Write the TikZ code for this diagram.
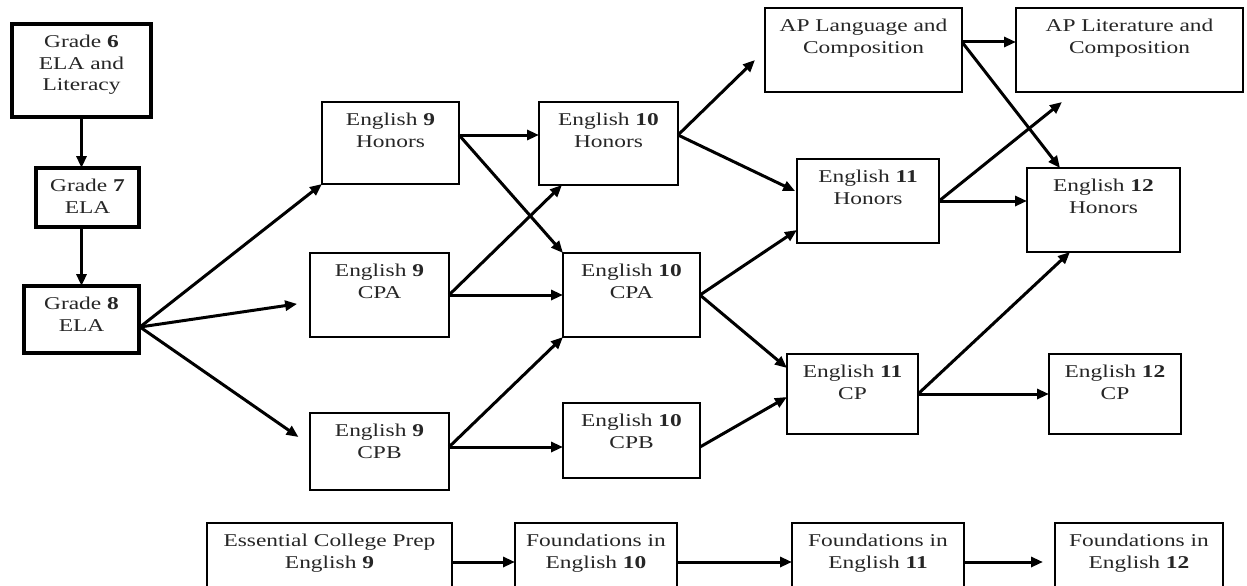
\documentclass[tikz,border=0pt]{standalone}
\usepackage{fontspec}
\setmainfont{Liberation Serif}[FakeStretch=1.3]
\usetikzlibrary{arrows.meta,calc}
\begin{document}
\begin{tikzpicture}[x=1pt,y=-1pt,
  box/.style={draw=black, line width=2.8pt, rectangle, inner sep=0pt, outer sep=0pt, anchor=north west, fill=white},
  gbox/.style={box, line width=3.4pt},
  txt/.style={align=center, inner sep=0pt, anchor=north, font=\fontsize{18}{21.5}\selectfont, text=black!85},
  arr/.style={line width=3pt, -{Triangle[length=12pt,width=10pt]}}]
\clip (0,0) rectangle (1247,586);
\fill[white] (0,0) rectangle (1247,586);
% boxes
\newcommand{\mybox}[7]{%
  \node[#1, minimum width=#5pt-#3pt, minimum height=#6pt-#4pt] (#2) at (#3,#4) {};
  \node[txt] (#2-t) at ($(#2.north)+(0,11)$) {#7};}
\mybox{gbox}{g6}{12}{24}{151}{117}{Grade \textbf{6}\\ELA and\\Literacy}
\mybox{gbox}{g7}{36}{168}{139}{227}{Grade \textbf{7}\\ELA}
\mybox{gbox}{g8}{24}{286}{139}{353}{Grade \textbf{8}\\ELA}
\mybox{box}{e9h}{322}{102}{459}{184}{English \textbf{9}\\Honors}
\mybox{box}{e9a}{310}{253}{449}{337}{English \textbf{9}\\CPA}
\mybox{box}{e9b}{310}{413}{449}{490}{English \textbf{9}\\CPB}
\mybox{box}{e10h}{539}{102}{678}{185}{English \textbf{10}\\Honors}
\mybox{box}{e10a}{563}{253}{700}{337}{English \textbf{10}\\CPA}
\mybox{box}{e10b}{563}{403}{700}{478}{English \textbf{10}\\CPB}
\mybox{box}{apl}{765}{8}{962}{92}{AP Language and\\Composition}
\mybox{box}{apt}{1016}{8}{1243}{92}{AP Literature and\\Composition}
\mybox{box}{e11h}{797}{159}{939}{243}{English \textbf{11}\\Honors}
\mybox{box}{e11c}{787}{354}{918}{434}{English \textbf{11}\\CP}
\mybox{box}{e12h}{1027}{168}{1180}{252}{English \textbf{12}\\Honors}
\mybox{box}{e12c}{1049}{354}{1181}{434}{English \textbf{12}\\CP}
\mybox{box}{ecp}{207}{523}{452}{625}{Essential College Prep\\English \textbf{9}}
\mybox{box}{f10}{515}{523}{677}{625}{Foundations in\\English \textbf{10}}
\mybox{box}{f11}{792}{523}{964}{625}{Foundations in\\English \textbf{11}}
\mybox{box}{f12}{1055}{523}{1223}{625}{Foundations in\\English \textbf{12}}
% start points
\coordinate (s8) at ($(g8.east)+(1,7.5)$);
\coordinate (s9h) at ($(e9h.north east)+(0,33)$);
\coordinate (s9b) at ($(e9b.north east)+(0,34)$);
\coordinate (s10h) at ($(e10h.north east)+(0,33)$);
\coordinate (s10b) at ($(e10b.north east)+(0,44)$);
\coordinate (sapl) at ($(apl.north east)+(0,34)$);
\coordinate (secp) at ($(ecp.north east)+(0,39)$);
\coordinate (tapl) at ($(apl.south west)+(-10,-32)$);
\coordinate (tapt) at ($(apt.south west)+(46,10)$);
% arrows
\draw[arr] (g6.south) -- (g6.south |- g7.north);
\draw[arr] (g8.north |- g7.south) -- (g8.north);
\draw[arr] (s8) -- (e9h.south west);
\draw[arr, shorten >=13pt] (s8) -- ($(e9a.west)+(0,7)$);
\draw[arr, shorten >=14pt] (s8) -- ($(e9b.north west)+(0,32)$);
\draw[arr] (s9h) -- (s9h -| e10h.west);
\draw[arr] (s9h) -- (e10a.north west);
\draw[arr] (e9a.east) -- ($(e10h.south west)+(23,0)$);
\draw[arr] (e9a.east) -- (e9a.east -| e10a.west);
\draw[arr] (s9b) -- (e10a.south west);
\draw[arr] (s9b) -- (s9b -| e10b.west);
\draw[arr] (s10h) -- (tapl);
\draw[arr, shorten >=2pt] (s10h) -- ($(e11h.north west)+(0,33)$);
\draw[arr] (e10a.east) -- ($(e11h.south west)+(0,-13)$);
\draw[arr] (e10a.east) -- ($(e11c.north west)+(0,14)$);
\draw[arr] (s10b) -- ($(e11c.north west)+(0,43)$);
\draw[arr] (sapl) -- (sapl -| apt.west);
\draw[arr] (sapl) -- ($(e12h.north west)+(33,0)$);
\draw[arr] (e11h.east) -- (tapt);
\draw[arr] (e11h.east) -- (e11h.east -| e12h.west);
\draw[arr] (e11c.east) -- ($(e12h.south west)+(43,0)$);
\draw[arr] (e11c.east) -- (e11c.east -| e12c.west);
\draw[arr] (secp) -- (secp -| f10.west);
\draw[arr] (secp -| f10.east) -- (secp -| f11.west);
\draw[arr, shorten >=12pt] (secp -| f11.east) -- (secp -| f12.west);
\end{tikzpicture}
\end{document}
